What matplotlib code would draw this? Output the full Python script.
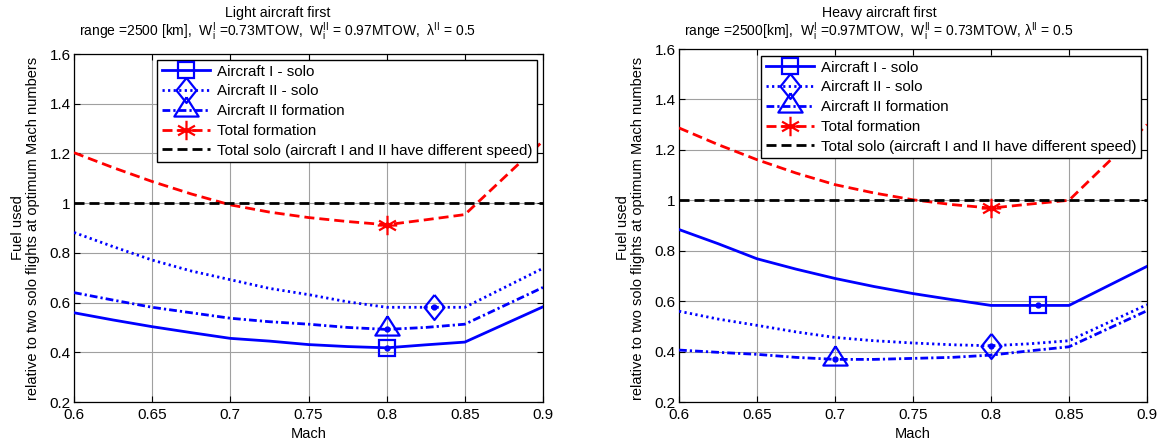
import numpy as np
import matplotlib
matplotlib.use("Agg")
import matplotlib.pyplot as plt
from matplotlib.lines import Line2D
from matplotlib.path import Path

plt.rcParams['font.family'] = ['Liberation Sans', 'DejaVu Sans']
plt.rcParams['mathtext.fontset'] = 'custom'
plt.rcParams['mathtext.rm'] = 'Liberation Sans'
plt.rcParams['mathtext.it'] = 'Liberation Sans'
plt.rcParams['mathtext.default'] = 'regular'

# ---------------- data ----------------
mach = [0.60, 0.625, 0.65, 0.675, 0.70, 0.725, 0.75, 0.775, 0.80, 0.825, 0.85, 0.90]

# Left panel: light aircraft first
L_I_solo   = [0.559, 0.530, 0.503, 0.479, 0.456, 0.445, 0.431, 0.423, 0.418, 0.430, 0.441, 0.583]
L_II_solo  = [0.882, 0.825, 0.771, 0.727, 0.692, 0.657, 0.632, 0.603, 0.581, 0.581, 0.581, 0.738]
L_II_form  = [0.640, 0.610, 0.581, 0.559, 0.537, 0.523, 0.513, 0.500, 0.492, 0.500, 0.513, 0.661]
L_tot_form = [1.203, 1.143, 1.087, 1.037, 0.993, 0.964, 0.942, 0.926, 0.913, 0.933, 0.954, 1.250]
L_tot_solo = [1.0] * len(mach)
L_opt = [0.80, 0.83, 0.80, 0.80]   # optimum Mach markers: I solo, II solo, II form, total

# Right panel: heavy aircraft first
R_I_solo   = [0.884, 0.828, 0.768, 0.727, 0.690, 0.658, 0.630, 0.606, 0.583, 0.583, 0.583, 0.738]
R_II_solo  = [0.560, 0.529, 0.504, 0.478, 0.456, 0.443, 0.434, 0.427, 0.423, 0.431, 0.443, 0.586]
R_II_form  = [0.406, 0.397, 0.389, 0.377, 0.369, 0.369, 0.373, 0.377, 0.386, 0.403, 0.419, 0.562]
R_tot_form = [1.287, 1.221, 1.161, 1.108, 1.062, 1.029, 1.002, 0.983, 0.969, 0.985, 1.000, 1.300]
R_tot_solo = [1.0] * len(mach)
R_opt = [0.83, 0.80, 0.70, 0.80]

labels = ["Aircraft I - solo", "Aircraft II - solo", "Aircraft II formation",
          "Total formation", "Total solo (aircraft I and II have different speed)"]
xticks = [0.6, 0.65, 0.7, 0.75, 0.8, 0.85, 0.9]
xticklabels = ["0.6", "0.65", "0.7", "0.75", "0.8", "0.85", "0.9"]
yticks = [0.2, 0.4, 0.6, 0.8, 1.0, 1.2, 1.4, 1.6]
yticklabels = ["0.2", "0.4", "0.6", "0.8", "1", "1.2", "1.4", "1.6"]

titles1 = ["Light aircraft first", "Heavy aircraft first"]
titles2 = [r"range =2500 [km],  W$_{i}^{I}$ =0.73MTOW,  W$_{i}^{II}$ = 0.97MTOW,  $\lambda^{II}$ = 0.5",
           r"range =2500[km],  W$_{i}^{I}$ =0.97MTOW,  W$_{i}^{II}$ = 0.73MTOW, $\lambda^{II}$ = 0.5"]

# ---------------- styles ----------------
BLUE = (0, 0, 1)
RED = (1, 0, 0)
LW = 2.0
MEW = 1.6
diamond = [(0, 1), (0.8, 0), (0, -1), (-0.8, 0), (0, 1)]
triangle = [(0, 1), (0.92, -0.46), (-0.92, -0.46), (0, 1)]
star = [(0, 1), (0, -1), (0.87, 0.5), (-0.87, -0.5), (0.87, -0.5), (-0.87, 0.5), (1, 0), (-1, 0)]
star_path = Path(star, [Path.MOVETO, Path.LINETO] * 4)

styles = [
    dict(color=BLUE, ls='-', dashes=None, marker='s', ms=11.5),
    dict(color=BLUE, ls=':', dashes=(0.8, 1.2), marker=diamond, ms=18),
    dict(color=BLUE, ls='-.', dashes=(2.8, 1.1, 0.8, 1.1), marker=triangle, ms=19),
    dict(color=RED, ls='--', dashes=(3.6, 1.8), marker=star_path, ms=14),
    dict(color='k', ls='--', dashes=(3.6, 1.8), marker=None, ms=0),
]

fig = plt.figure(figsize=(11.63, 4.45), dpi=100)
ax_pos = [[74 / 1163, 1 - 402 / 445, 469 / 1163, 348 / 445],
          [679 / 1163, 1 - 402 / 445, 468 / 1163, 353 / 445]]
panels = [[L_I_solo, L_II_solo, L_II_form, L_tot_form, L_tot_solo],
          [R_I_solo, R_II_solo, R_II_form, R_tot_form, R_tot_solo]]
opts = [L_opt, R_opt]
title_x = [278 / 1163, 879 / 1163]
ylab_x = [(18 / 1163, 33 / 1163), (623 / 1163, 638 / 1163)]
legend_box = [(537 / 1163, 1 - 60 / 445), (1141 / 1163, 1 - 56 / 445)]

for p in range(2):
    ax = fig.add_axes(ax_pos[p])
    ax.set_xlim(0.6, 0.9)
    ax.set_ylim(0.2, 1.6)
    ax.grid(True, color='#a0a0a0', lw=0.8, ls='-')
    ax.set_axisbelow(True)
    handles = []
    for k, (series, st) in enumerate(zip(panels[p], styles)):
        line, = ax.plot(mach, series, color=st['color'], lw=LW, ls=st['ls'],
                        zorder=3, dash_capstyle='butt')
        if st['dashes'] is not None:
            line.set_dashes(st['dashes'])
        if st['marker'] is not None:
            xo = opts[p][k]
            yo = float(np.interp(xo, mach, series))
            ax.plot([xo], [yo], ls='none', marker=st['marker'], ms=st['ms'],
                    mfc='none', mec=st['color'], mew=MEW, zorder=4)
            ax.plot([xo], [yo], ls='none', marker='o', ms=3.5, color=st['color'], zorder=4)
        h = Line2D([], [], color=st['color'], lw=LW, ls=st['ls'],
                   marker=st['marker'], ms=st['ms'], mfc='none', mec=st['color'], mew=MEW)
        if st['dashes'] is not None:
            h.set_dashes(st['dashes'])
        handles.append(h)
    ax.set_xticks(xticks)
    ax.set_xticklabels(xticklabels)
    ax.set_yticks(yticks)
    ax.set_yticklabels(yticklabels)
    ax.tick_params(direction='in', top=True, right=True, length=4, width=0.8,
                   labelsize=11, pad=2.5, colors='k')
    ax.tick_params(axis='x', pad=4.5)
    for s in ax.spines.values():
        s.set_linewidth(0.9)
    leg = fig.legend(handles, labels, loc='upper right', bbox_to_anchor=legend_box[p],
                     bbox_transform=fig.transFigure, fontsize=10.9, frameon=True,
                     fancybox=False, framealpha=1, edgecolor='k', handlelength=3.2,
                     labelspacing=0.38, borderpad=0.3, handletextpad=0.45, borderaxespad=0)
    leg.get_frame().set_linewidth(1.0)
    fig.text(title_x[p], 1 - 13 / 445, titles1[p], ha='center', va='center', fontsize=10.2)
    fig.text(title_x[p], 1 - 32 / 445, titles2[p], ha='center', va='center', fontsize=10)
    fig.text(ylab_x[p][0], 1 - 228 / 445, "Fuel used", rotation=90,
             ha='center', va='center', fontsize=10.5)
    fig.text(ylab_x[p][1], 1 - 228 / 445, "relative to two solo flights at optimum Mach numbers",
             rotation=90, ha='center', va='center', fontsize=10.5)
    fig.text((ax_pos[p][0] + ax_pos[p][2] / 2), 1 - 434 / 445, "Mach",
             ha='center', va='center', fontsize=10.5)

fig.savefig("out.png", dpi=100)
